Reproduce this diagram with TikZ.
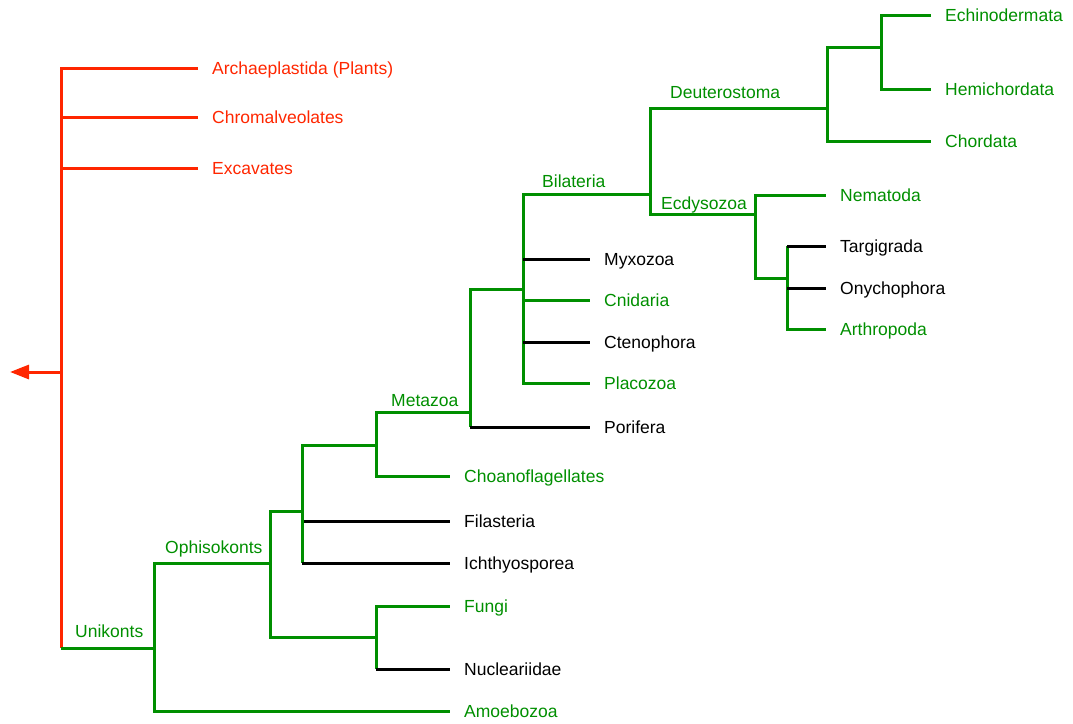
\documentclass[tikz,border=0pt]{standalone}
\usepackage{fontspec}
\setmainfont{Liberation Sans}
\usepackage{xcolor}
\usepackage{tikz}
\usetikzlibrary{arrows.meta}
\definecolor{outRed}{HTML}{FF2600}
\definecolor{uniGreen}{HTML}{008F00}
\definecolor{leafBlack}{HTML}{000000}
\tikzset{
  redLine/.style={draw=outRed, line width=3pt},
  greenLine/.style={draw=uniGreen, line width=3pt},
  blackLine/.style={draw=leafBlack, line width=3pt},
  leafLabel/.style={anchor=west, inner xsep=14pt, inner ysep=0pt,
    text height=12.5pt, text depth=0pt, font=\fontsize{17.5}{20}\selectfont},
  cladeLabel/.style={anchor=base west, inner sep=0pt, text=uniGreen,
    font=\fontsize{17.5}{20}\selectfont}
}

\begin{document}
\begin{tikzpicture}[x=1pt, y=-1pt]
  \useasboundingbox (0,0) rectangle (1073,723);

  % branch points
  \coordinate (root) at (61,372);
  \coordinate (outgroup) at (10,372);
  \coordinate (unikonts) at (154,648);
  \coordinate (ophisokonts) at (270,563);
  \coordinate (holozoa) at (302,511);
  \coordinate (fungiSplit) at (376,637);
  \coordinate (choanoSplit) at (376,445);
  \coordinate (metazoa) at (470,412);
  \coordinate (eumetazoa) at (523,289);
  \coordinate (bilateria) at (650,194);
  \coordinate (deutero) at (827,108);
  \coordinate (ambulacraria) at (881,47);
  \coordinate (ecdyso) at (755,214);
  \coordinate (panarthro) at (787,278);

  % leaves
  \node[leafLabel, text=outRed] (archae) at (198,68) {Archaeplastida (Plants)};
  \node[leafLabel, text=outRed] (chromal) at (198,117) {Chromalveolates};
  \node[leafLabel, text=outRed] (excav) at (198,168) {Excavates};
  \node[leafLabel, text=uniGreen] (amoebo) at (450,711) {Amoebozoa};
  \node[leafLabel, text=uniGreen] (fungi) at (450,606) {Fungi};
  \node[leafLabel] (nucle) at (450,669) {Nucleariidae};
  \node[leafLabel] (filast) at (450,521) {Filasteria};
  \node[leafLabel] (ichthyo) at (450,563) {Ichthyosporea};
  \node[leafLabel, text=uniGreen] (choano) at (450,476) {Choanoflagellates};
  \node[leafLabel] (porif) at (590,427) {Porifera};
  \node[leafLabel] (myxo) at (590,259) {Myxozoa};
  \node[leafLabel, text=uniGreen] (cnid) at (590,300) {Cnidaria};
  \node[leafLabel] (cteno) at (590,342) {Ctenophora};
  \node[leafLabel, text=uniGreen] (placo) at (590,383) {Placozoa};
  \node[leafLabel, text=uniGreen] (echino) at (931,15) {Echinodermata};
  \node[leafLabel, text=uniGreen] (hemi) at (931,89) {Hemichordata};
  \node[leafLabel, text=uniGreen] (chorda) at (931,141) {Chordata};
  \node[leafLabel, text=uniGreen] (nemato) at (826,195) {Nematoda};
  \node[leafLabel] (targi) at (826,246) {Targigrada};
  \node[leafLabel] (onycho) at (826,288) {Onychophora};
  \node[leafLabel, text=uniGreen] (arthro) at (826,329) {Arthropoda};

  % clade names
  \node[cladeLabel] (lblUni) at (75,637) {Unikonts};
  \node[cladeLabel] (lblOphi) at (165,553) {Ophisokonts};
  \node[cladeLabel] (lblMeta) at (391,406) {Metazoa};
  \node[cladeLabel] (lblBila) at (542,187) {Bilateria};
  \node[cladeLabel] (lblDeut) at (670,98) {Deuterostoma};
  \node[cladeLabel] (lblEcdy) at (661,209) {Ecdysozoa};

  % outgroups
  \foreach \l in {archae,chromal,excav}
    \draw[redLine] (root) |- (\l.west);
  \draw[redLine] (root) -- (root |- unikonts);
  \draw[redLine, -{Triangle[length=19pt,width=14pt]}] (root) -- (outgroup);
  \draw[greenLine] (root |- unikonts) -- (unikonts);

  % green branches
  \foreach \j/\c in {unikonts/ophisokonts, ophisokonts/holozoa, ophisokonts/fungiSplit,
      holozoa/choanoSplit, choanoSplit/metazoa, metazoa/eumetazoa, eumetazoa/bilateria,
      bilateria/deutero, bilateria/ecdyso, deutero/ambulacraria, ecdyso/panarthro}
    \draw[greenLine] (\j) |- (\c);
  \foreach \j/\l in {unikonts/amoebo, fungiSplit/fungi, choanoSplit/choano,
      eumetazoa/cnid, eumetazoa/placo, ambulacraria/echino, ambulacraria/hemi,
      deutero/chorda, ecdyso/nemato, panarthro/arthro}
    \draw[greenLine] (\j) |- (\l.west);

  % black leaves on green stems
  \foreach \j/\l in {fungiSplit/nucle, holozoa/filast, holozoa/ichthyo, metazoa/porif,
      eumetazoa/myxo, eumetazoa/cteno, panarthro/targi, panarthro/onycho} {
    \draw[greenLine] (\j) -- (\j |- \l.west);
    \draw[blackLine] (\j |- \l.west) -- (\l.west);
  }
\end{tikzpicture}
\end{document}
